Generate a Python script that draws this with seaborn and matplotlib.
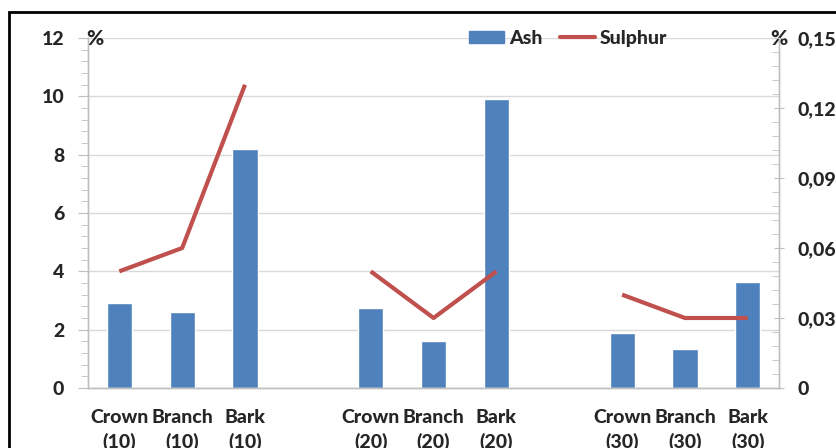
import numpy as np
import pandas as pd
import seaborn as sns
import matplotlib.pyplot as plt
from matplotlib.ticker import MultipleLocator, FuncFormatter
from matplotlib.patches import Rectangle
from matplotlib.lines import Line2D

slots = ["Crown\n(10)", "Branch\n(10)", "Bark\n(10)", " ",
         "Crown\n(20)", "Branch\n(20)", "Bark\n(20)", "  ",
         "Crown\n(30)", "Branch\n(30)", "Bark\n(30)"]
ash = [2.9, 2.6, 8.2, np.nan, 2.75, 1.6, 9.9, np.nan, 1.9, 1.35, 3.65]
sulphur_groups = {
    "10": (["Crown\n(10)", "Branch\n(10)", "Bark\n(10)"], [0.05, 0.06, 0.13]),
    "20": (["Crown\n(20)", "Branch\n(20)", "Bark\n(20)"], [0.05, 0.03, 0.05]),
    "30": (["Crown\n(30)", "Branch\n(30)", "Bark\n(30)"], [0.04, 0.03, 0.03]),
}

blue = "#4F81BD"
red = "#C0504D"
grey = "#BFBFBF"
W = 'black'  # heaviest weight available

sns.set_style("white")
plt.rcParams['font.family'] = ['Lato', 'DejaVu Sans']
plt.rcParams['font.weight'] = W

fig = plt.figure(figsize=(8.37, 4.48), dpi=100)
ax = fig.add_axes([0.105, 0.134, 0.826, 0.781])

df = pd.DataFrame({"slot": slots, "ash": ash})
sns.barplot(data=df, x="slot", y="ash", order=slots, color=blue,
            width=0.4, saturation=1, ax=ax, errorbar=None)

ax2 = ax.twinx()
for key, (names, vals) in sulphur_groups.items():
    pos = [slots.index(n) for n in names]
    sns.lineplot(x=pos, y=vals, color=red, linewidth=3.0, ax=ax2,
                 solid_capstyle='butt')

ax.set_xlim(-0.5, len(slots) - 0.5)
ax.set_ylim(0, 12)
ax2.set_ylim(0, 0.15)
ax.set_xlabel("")
ax.set_ylabel("")

ax.yaxis.set_major_locator(MultipleLocator(2))
ax.yaxis.set_minor_locator(MultipleLocator(0.4))
ax2.yaxis.set_major_locator(MultipleLocator(0.03))
ax2.yaxis.set_minor_locator(MultipleLocator(0.006))
ax2.yaxis.set_major_formatter(FuncFormatter(
    lambda v, p: "0" if abs(v) < 1e-9 else f"{v:.2f}".replace(".", ",")))

ax.set_xticks(range(len(slots)))
ax.set_xticklabels([s.strip() for s in slots], fontsize=14, fontweight=W,
                   linespacing=1.45, va='top')
ax.set_xticks(np.arange(-0.5, len(slots)), minor=True)
ax.tick_params(axis='x', which='major', length=0, pad=15)
ax.tick_params(axis='x', which='minor', length=7, color=grey, direction='out')
ax.tick_params(axis='y', which='major', length=7, color=grey, labelsize=14, pad=10)
ax.tick_params(axis='y', which='minor', length=5, color=grey)
ax2.tick_params(axis='y', which='major', length=7, color=grey, labelsize=14,
                pad=10, direction='inout')
ax2.tick_params(axis='y', which='minor', length=5, color=grey, direction='in')
for lab in ax.get_yticklabels() + ax2.get_yticklabels():
    lab.set_fontweight(W)

ax.yaxis.grid(True, color="#D9D9D9", linewidth=1)
ax.set_axisbelow(True)
for a in (ax, ax2):
    a.spines['top'].set_visible(False)
    for s in ('left', 'right', 'bottom'):
        a.spines[s].set_color(grey)
        a.spines[s].set_linewidth(1)
ax2.set_ylabel("")

ax.text(-0.003, 12, "%", transform=ax.get_yaxis_transform(), fontsize=15,
        fontweight=W, ha='left', va='center')
ax.text(1.012, 12, "%", transform=ax.get_yaxis_transform(), fontsize=15,
        fontweight=W, ha='right', va='center')

handles = [Rectangle((0, 0), 1, 1, color=blue),
           Line2D([0], [0], color=red, linewidth=3.0)]
ax2.legend(handles, ["Ash", "Sulphur"], loc='center left',
           bbox_to_anchor=(0.54, 1.0), ncol=2, frameon=False,
           prop={'size': 14, 'weight': W}, handlelength=1.8,
           handleheight=0.6, handletextpad=0.25, columnspacing=0.9,
           borderaxespad=0)

fig.patches.append(Rectangle((9 / 837, -0.1), 1.2, 1 - 12 / 448 + 0.1,
                             transform=fig.transFigure, fill=False,
                             edgecolor='black', linewidth=2))

fig.savefig("out.png", dpi=100)
